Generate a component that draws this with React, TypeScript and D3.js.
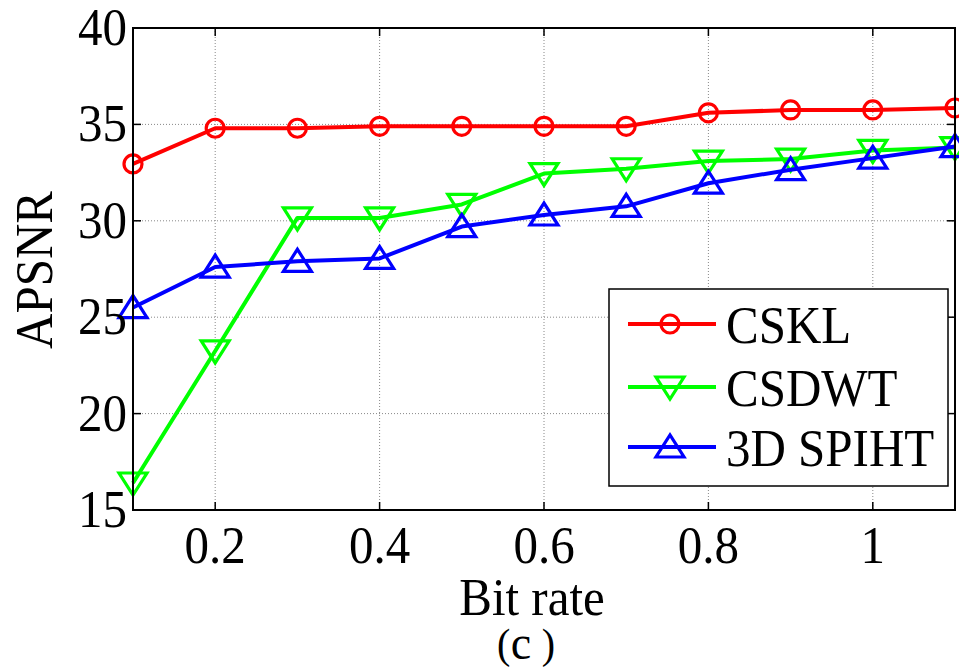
import { useMemo } from 'react';
import * as d3 from 'd3';

const bitRates = [0.1, 0.2, 0.3, 0.4, 0.5, 0.6, 0.7, 0.8, 0.9, 1.0, 1.1];
const cskl = [32.95, 34.8, 34.8, 34.9, 34.9, 34.9, 34.9, 35.6, 35.75, 35.75, 35.85];
const csdwt = [16.4, 23.25, 30.15, 30.15, 30.85, 32.45, 32.7, 33.1, 33.2, 33.65, 33.8];
const spiht = [25.5, 27.6, 27.9, 28.05, 29.7, 30.3, 30.75, 31.95, 32.65, 33.25, 33.85];
const xTicks = [0.2, 0.4, 0.6, 0.8, 1];
const yTicks = [15, 20, 25, 30, 35, 40];
const seriesNames = ['CSKL', 'CSDWT', '3D SPIHT'];
const seriesColors = ['#ff0000', '#00ff00', '#0000ff'];
const seriesMarkers = ['circle', 'down', 'up'];

const W = 959;
const H = 670;
const m = { left: 133, top: 28, right: 955, bottom: 510 };
const FONT = '"Liberation Serif", "Times New Roman", serif';
const FS = 49;
const SY = 1.07; // the source text looks a bit stretched vertically

const Marker = ({ kind, x, y, color }) => {
    if (kind === 'circle') {
        return <circle cx={x} cy={y} r={9} fill="none" stroke={color} strokeWidth={3.2} />;
    }
    const w = 14, h = 10;
    const pts = kind === 'down'
        ? `${x - w},${y - h} ${x + w},${y - h} ${x},${y + h + 2}`
        : `${x - w},${y + h} ${x + w},${y + h} ${x},${y - h - 2}`;
    return <polygon points={pts} fill="none" stroke={color} strokeWidth={3.2} strokeLinejoin="miter" />;
};

// text drawn at baseline (x, y), slightly stretched vertically
const Txt = ({ x, y, anchor = 'start', size = FS, rotate = 0, children }) => (
    <text transform={`translate(${x},${y}) rotate(${rotate}) scale(1,${SY})`}
        textAnchor={anchor} fontSize={size} fill="#000">{children}</text>
);

export default function App() {
    const x = useMemo(() => d3.scaleLinear().domain([0.1, 1.1]).range([m.left, m.right]), []);
    const y = useMemo(() => d3.scaleLinear().domain([15, 40]).range([m.bottom, m.top]), []);
    const allSeries = [cskl, csdwt, spiht];

    const line = d3.line<number>()
        .x((_, i) => x(bitRates[i]))
        .y(d => y(d));

    // legend placement
    const lg = { x0: 609, y0: 289, x1: 948, y1: 486 };
    const rowY = [324, 387, 447];

    return (
        <div style={{ position: 'absolute', left: 0, top: 0 }}>
            <svg width={W} height={H} style={{ display: 'block', background: '#fff' }} fontFamily={FONT}>
                <rect x={0} y={0} width={W} height={H} fill="#fff" />

                {/* grid */}
                {xTicks.map(t => (
                    <line key={'gx' + t} x1={x(t)} x2={x(t)} y1={m.top} y2={m.bottom}
                        stroke="#888" strokeWidth={1} strokeDasharray="1,2" />
                ))}
                {yTicks.filter(t => t > 15 && t < 40).map(t => (
                    <line key={'gy' + t} x1={m.left} x2={m.right} y1={y(t)} y2={y(t)}
                        stroke="#888" strokeWidth={1} strokeDasharray="1,2" />
                ))}

                {/* tick marks */}
                {xTicks.map(t => (
                    <g key={'tx' + t}>
                        <line x1={x(t)} x2={x(t)} y1={m.bottom} y2={m.bottom - 8} stroke="#000" strokeWidth={1.5} />
                        <line x1={x(t)} x2={x(t)} y1={m.top} y2={m.top + 8} stroke="#000" strokeWidth={1.5} />
                    </g>
                ))}
                {yTicks.map(t => (
                    <g key={'ty' + t}>
                        <line x1={m.left} x2={m.left + 8} y1={y(t)} y2={y(t)} stroke="#000" strokeWidth={1.5} />
                        <line x1={m.right} x2={m.right - 8} y1={y(t)} y2={y(t)} stroke="#000" strokeWidth={1.5} />
                    </g>
                ))}

                {/* series */}
                {allSeries.map((s, k) => (
                    <g key={seriesNames[k]}>
                        <path d={line(s) || ''} fill="none" stroke={seriesColors[k]} strokeWidth={4} strokeLinejoin="round" />
                        {s.map((v, i) => (
                            <Marker key={i} kind={seriesMarkers[k]} x={x(bitRates[i])} y={y(v)} color={seriesColors[k]} />
                        ))}
                    </g>
                ))}

                {/* frame */}
                <rect x={m.left} y={m.top} width={m.right - m.left} height={m.bottom - m.top}
                    fill="none" stroke="#000" strokeWidth={2} />

                {/* tick labels */}
                {yTicks.map(t => (
                    <Txt key={'ly' + t} x={127} y={y(t) + 17} anchor="end">{t}</Txt>
                ))}
                {xTicks.map(t => (
                    <Txt key={'lx' + t} x={x(t)} y={563} anchor="middle">{d3.format('~g')(t)}</Txt>
                ))}

                {/* axis titles */}
                <Txt x={532} y={615} anchor="middle">Bit rate</Txt>
                <Txt x={52} y={270} anchor="middle" rotate={-90}>APSNR</Txt>
                <Txt x={497} y={658} size={40}>(</Txt>
                <Txt x={521} y={659} anchor="middle" size={46}>c</Txt>
                <Txt x={555} y={658} anchor="end" size={40}>)</Txt>

                {/* legend */}
                <rect x={lg.x0} y={lg.y0} width={lg.x1 - lg.x0} height={lg.y1 - lg.y0} fill="#fff" stroke="#000" strokeWidth={1.5} />
                {seriesNames.map((name, k) => (
                    <g key={'lg' + name}>
                        <line x1={628} x2={716} y1={rowY[k]} y2={rowY[k]} stroke={seriesColors[k]} strokeWidth={4} />
                        <Marker kind={seriesMarkers[k]} x={670} y={rowY[k]} color={seriesColors[k]} />
                        <Txt x={726} y={rowY[k] + 19}>{name}</Txt>
                    </g>
                ))}
            </svg>
        </div>
    );
}
